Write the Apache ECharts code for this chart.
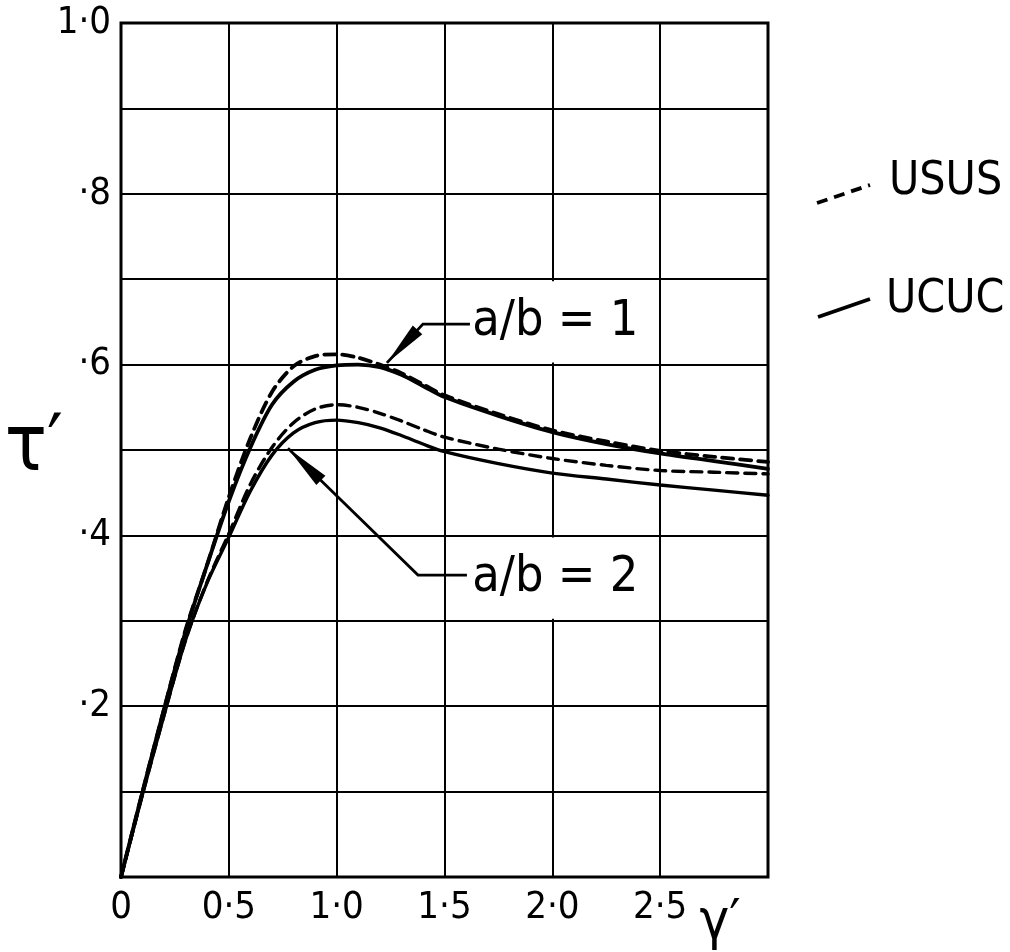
<!DOCTYPE html>
<html>
<head>
<meta charset="utf-8">
<script src="https://cdn.jsdelivr.net/npm/echarts@6/dist/echarts.min.js"></script>
<style>
  html, body { margin: 0; padding: 0; background: #ffffff; }
  #chart { width: 1010px; height: 952px; }
</style>
</head>
<body>
<div id="chart"></div>
<script>
// Shear strain γ' (x) against shear stress τ' (y)
const gammaValues = [0, 0.1, 0.2, 0.3, 0.4, 0.5, 0.6, 0.7, 0.8, 0.9, 1.0, 1.1, 1.2, 1.3, 1.4, 1.5, 1.75, 2.0, 2.25, 2.5, 2.75, 3.0];

// a/b = 1
const tauUsusAb1 = [0, 0.100, 0.197, 0.290, 0.366, 0.445, 0.514, 0.568, 0.598, 0.610, 0.612, 0.608, 0.600, 0.590, 0.577, 0.564, 0.542, 0.523, 0.510, 0.499, 0.492, 0.486];
const tauUcucAb1 = [0, 0.100, 0.197, 0.288, 0.366, 0.440, 0.503, 0.553, 0.580, 0.594, 0.599, 0.600, 0.597, 0.588, 0.575, 0.562, 0.540, 0.521, 0.507, 0.496, 0.487, 0.478];

// a/b = 2
const tauUsusAb2 = [0, 0.097, 0.190, 0.278, 0.346, 0.402, 0.460, 0.503, 0.532, 0.548, 0.553, 0.550, 0.543, 0.534, 0.524, 0.515, 0.501, 0.490, 0.482, 0.476, 0.474, 0.472];
const tauUcucAb2 = [0, 0.097, 0.190, 0.278, 0.345, 0.398, 0.452, 0.494, 0.520, 0.532, 0.535, 0.532, 0.526, 0.517, 0.507, 0.498, 0.484, 0.473, 0.466, 0.459, 0.453, 0.447];

const xTickLabels = ['0', '0·5', '1·0', '1·5', '2·0', '2·5', ''];
const yTickLabels = ['', '', '·2', '', '·4', '', '·6', '', '·8', '', '1·0'];

const FONT = "'DejaVu Sans Condensed', 'DejaVu Sans', sans-serif";
const INK = '#000000';

function pairs(values) {
  return gammaValues.map((g, i) => [g, values[i]]);
}

function curve(name, values, dashed, width) {
  return {
    name: name,
    type: 'line',
    data: pairs(values),
    smooth: 0.3,
    showSymbol: false,
    silent: true,
    lineStyle: { color: INK, width: width, type: dashed ? [11, 7] : 'solid', cap: 'round' }
  };
}

const chart = echarts.init(document.getElementById('chart'), null, { renderer: 'canvas' });

chart.setOption({
  backgroundColor: '#ffffff',
  animation: false,
  grid: {
    left: 121, right: 242, top: 23, bottom: 75,
    containLabel: false, outerBoundsMode: 'none',
    show: true, borderColor: INK, borderWidth: 3, backgroundColor: 'transparent'
  },
  xAxis: {
    type: 'value', min: 0, max: 3, interval: 0.5,
    name: 'γ′', nameLocation: 'end', nameGap: -48, nameMoveOverlap: false,
    nameTextStyle: { fontFamily: FONT, fontSize: 56, color: INK, align: 'center', verticalAlign: 'top', padding: [18, 0, 0, 0] },
    axisLine: { show: false },
    axisTick: { show: false },
    splitLine: { show: true, lineStyle: { color: INK, width: 2 } },
    axisLabel: {
      margin: 12, fontFamily: FONT, fontSize: 38, color: INK,
      formatter: v => xTickLabels[Math.round(v / 0.5)] || ''
    }
  },
  yAxis: {
    type: 'value', min: 0, max: 1, interval: 0.1,
    name: 'τ′', nameLocation: 'middle', nameRotate: 0, nameGap: 58, nameMoveOverlap: false,
    nameTextStyle: { fontFamily: FONT, fontSize: 78, color: INK },
    axisLine: { show: false },
    axisTick: { show: false },
    splitLine: { show: true, lineStyle: { color: INK, width: 2 } },
    axisLabel: {
      margin: 10, fontFamily: FONT, fontSize: 38, color: INK,
      formatter: v => yTickLabels[Math.round(v / 0.1)] || ''
    }
  },
  series: [
    curve('USUS a/b=1', tauUsusAb1, true, 3.8),
    curve('UCUC a/b=1', tauUcucAb1, false, 3.8),
    curve('USUS a/b=2', tauUsusAb2, true, 3.4),
    curve('UCUC a/b=2', tauUcucAb2, false, 3.4)
  ]
});

// Callouts: leader line with arrowhead, label in a white cell
const callouts = [
  { text: 'a/b = 1', tip: [1.233, 0.602], corner: [1.40, 0.6475], end: [1.618, 0.6475], cell: [1.5, 0.6, 2.5, 0.7] },
  { text: 'a/b = 2', tip: [0.774, 0.502], corner: [1.377, 0.3536], end: [1.604, 0.3536], cell: [1.5, 0.3, 2.5, 0.4] }
];

const px = p => chart.convertToPixel({ gridIndex: 0 }, p);
const graphics = [];

callouts.forEach(c => {
  const a = px([c.cell[0], c.cell[3]]);
  const b = px([c.cell[2], c.cell[1]]);
  graphics.push({
    type: 'rect', z: 20,
    shape: { x: a[0] + 2, y: a[1] + 2, width: b[0] - a[0] - 4, height: b[1] - a[1] - 4 },
    style: { fill: '#ffffff' }
  });
  const mid = px([(c.cell[0] + c.cell[2]) / 2, (c.cell[1] + c.cell[3]) / 2]);
  graphics.push({
    type: 'text', z: 21, x: mid[0] + 3, y: mid[1],
    style: { text: c.text, fontFamily: FONT, fontSize: 50, fill: INK, align: 'center', verticalAlign: 'middle' }
  });
  const t = px(c.tip), k = px(c.corner), e = px(c.end);
  graphics.push({
    type: 'polyline', z: 22,
    shape: { points: [t, k, e] },
    style: { stroke: INK, lineWidth: 2.8, fill: null }
  });
  const dx = k[0] - t[0], dy = k[1] - t[1];
  const len = Math.hypot(dx, dy);
  const ux = dx / len, uy = dy / len;
  const L = Math.min(46, len * 0.85), W = 6.5;
  graphics.push({
    type: 'polygon', z: 22,
    shape: { points: [t, [t[0] + ux * L - uy * W, t[1] + uy * L + ux * W], [t[0] + ux * L + uy * W, t[1] + uy * L - ux * W]] },
    style: { fill: INK }
  });
});

// Key for line styles
graphics.push(
  { type: 'line', z: 20, shape: { x1: 817, y1: 203, x2: 870, y2: 185 }, style: { stroke: INK, lineWidth: 3.8, lineDash: [11, 7] } },
  { type: 'text', z: 20, x: 889, y: 182, style: { text: 'USUS', fontFamily: FONT, fontSize: 46, fill: INK, align: 'left', verticalAlign: 'middle' } },
  { type: 'line', z: 20, shape: { x1: 818, y1: 317, x2: 870, y2: 299 }, style: { stroke: INK, lineWidth: 3.8 } },
  { type: 'text', z: 20, x: 886, y: 300, style: { text: 'UCUC', fontFamily: FONT, fontSize: 46, fill: INK, align: 'left', verticalAlign: 'middle' } }
);

chart.setOption({ graphic: graphics });
</script>
</body>
</html>
